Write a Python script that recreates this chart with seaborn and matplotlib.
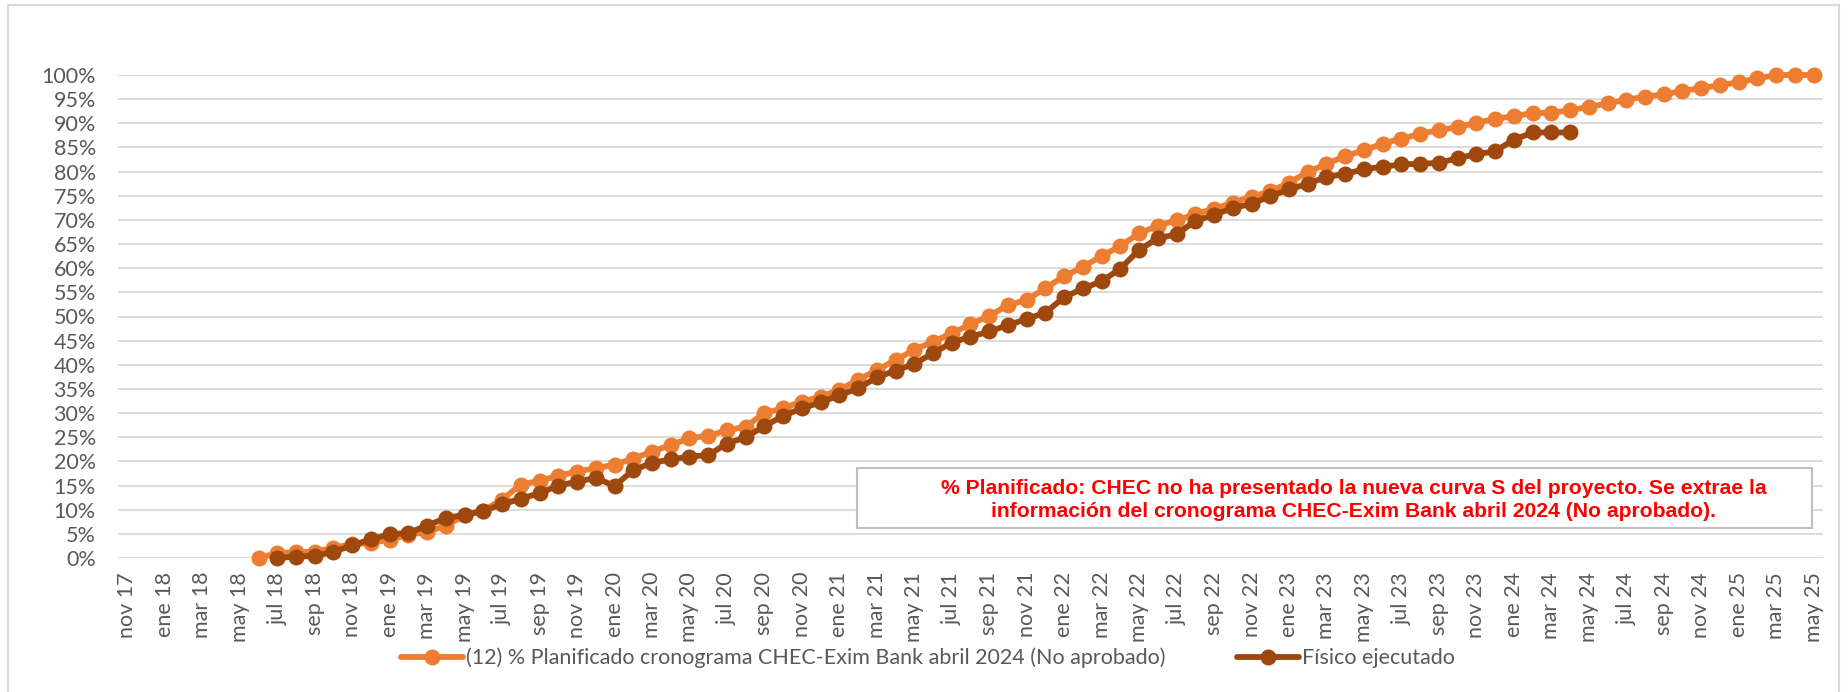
import matplotlib

matplotlib.use("Agg")
import matplotlib.pyplot as plt
import numpy as np
import pandas as pd
import seaborn as sns
from matplotlib.lines import Line2D
from matplotlib.patches import Rectangle
from matplotlib.ticker import PercentFormatter


# Eje de meses: nov 17 ... may 25 (un punto por mes)
MESES_ES = ["ene", "feb", "mar", "abr", "may", "jun", "jul", "ago", "sep", "oct", "nov", "dic"]
PERIODOS = pd.period_range("2017-11", "2025-05", freq="M")
MESES = [f"{MESES_ES[p.month - 1]} {p.year % 100:02d}" for p in PERIODOS]

# % planificado (cronograma CHEC-Exim Bank abril 2024), desde jun 18
INICIO_PLAN = "jun 18"
PLANIFICADO = [
    0.0, 1.0, 1.2, 1.3, 2.1, 2.9, 3.1, 3.8, 4.8, 5.4, 6.7, 8.8,
    9.8, 12.1, 15.2, 16.0, 17.0, 17.9, 18.6, 19.3, 20.6, 22.0, 23.4, 24.8,
    25.3, 26.4, 27.2, 30.0, 31.0, 32.4, 33.4, 34.8, 36.9, 38.9, 41.0, 43.1,
    44.8, 46.5, 48.4, 50.1, 52.4, 53.4, 55.9, 58.3, 60.3, 62.5, 64.6, 67.2,
    68.8, 69.9, 71.2, 72.3, 73.6, 74.8, 75.9, 77.7, 79.9, 81.6, 83.2, 84.4,
    85.8, 86.8, 87.8, 88.6, 89.2, 90.1, 90.9, 91.5, 92.1, 92.2, 92.7, 93.4,
    94.1, 94.9, 95.5, 96.0, 96.7, 97.3, 97.9, 98.5, 99.3, 100.0, 100.0, 100.0,
]

# % físico ejecutado, desde jul 18
INICIO_EJEC = "jul 18"
EJECUTADO = [
    0.0, 0.3, 0.4, 1.3, 2.6, 3.9, 4.9, 5.2, 6.7, 8.3, 8.9, 9.8,
    11.1, 12.3, 13.4, 15.0, 15.8, 16.6, 14.9, 18.2, 19.7, 20.4, 21.0, 21.3,
    23.7, 25.0, 27.3, 29.4, 31.0, 32.2, 33.7, 35.1, 37.4, 38.8, 40.2, 42.4,
    44.6, 45.8, 46.9, 48.2, 49.5, 50.8, 54.0, 55.8, 57.3, 59.9, 63.8, 66.2,
    67.0, 69.8, 71.0, 72.5, 73.3, 74.9, 76.3, 77.5, 78.9, 79.5, 80.5, 81.0,
    81.5, 81.6, 81.8, 82.8, 83.6, 84.2, 86.6, 88.1, 88.1, 88.1,
]

LABEL_PLAN = "(12) % Planificado cronograma CHEC-Exim Bank abril 2024 (No aprobado)"
LABEL_EJEC = "Físico ejecutado"
NOTA = (
    "% Planificado: CHEC no ha presentado la nueva curva S del proyecto. Se extrae la\n"
    "información del cronograma CHEC-Exim Bank abril 2024 (No aprobado)."
)

NARANJA = "#ED7D31"
MARRON = "#9E480E"
GRIS_TXT = "#595959"
GRIS_GRID = "#D9D9D9"
MS, LW = 11.5, 4.2


def serie(inicio: str, valores: list[float]) -> pd.DataFrame:
    i0 = MESES.index(inicio)
    return pd.DataFrame({"pos": np.arange(i0, i0 + len(valores)), "valor": np.array(valores) / 100})


def main() -> None:
    sns.set_theme(style="white")
    plt.rcParams["font.family"] = ["Lato", "DejaVu Sans"]

    W, H = 1849, 692
    fig = plt.figure(figsize=(W / 100, H / 100), dpi=100)
    ax = fig.add_axes([118 / W, 1 - 558 / H, (1823 - 118) / W, (558 - 75) / H])

    plan = serie(INICIO_PLAN, PLANIFICADO)
    ejec = serie(INICIO_EJEC, EJECUTADO)

    estilo = dict(marker="o", markersize=MS, markeredgewidth=0, linewidth=LW, clip_on=False, legend=False)
    sns.lineplot(data=plan, x="pos", y="valor", color=NARANJA, ax=ax, zorder=3, **estilo)
    sns.lineplot(data=ejec, x="pos", y="valor", color=MARRON, ax=ax, zorder=4, **estilo)

    ax.set_xlim(-0.5, len(MESES) - 0.5)
    ax.set_ylim(0, 1)
    ax.set_xticks(range(0, len(MESES), 2))
    ax.set_xticklabels(MESES[::2], rotation=90)
    ax.set_yticks(np.arange(0, 1.001, 0.05))
    ax.yaxis.set_major_formatter(PercentFormatter(1.0, decimals=0))
    ax.tick_params(axis="both", length=0, labelsize=15.5, labelcolor=GRIS_TXT)
    ax.tick_params(axis="y", pad=16)
    ax.tick_params(axis="x", pad=10)
    ax.set_xlabel("")
    ax.set_ylabel("")
    ax.grid(axis="y", color=GRIS_GRID, linewidth=1.3)
    ax.grid(axis="x", visible=False)
    for s in ax.spines.values():
        s.set_visible(False)

    handles = [
        Line2D([], [], color=NARANJA, marker="o", markersize=MS, markeredgewidth=0, linewidth=LW),
        Line2D([], [], color=MARRON, marker="o", markersize=MS, markeredgewidth=0, linewidth=LW),
    ]
    fig.legend(
        handles, [LABEL_PLAN, LABEL_EJEC], loc="center", bbox_to_anchor=(928 / W, 1 - 658 / H),
        ncol=2, frameon=False, fontsize=15.5, labelcolor=GRIS_TXT, handlelength=2.9,
        handletextpad=0.15, columnspacing=3.3, numpoints=1,
    )

    # cuadro de nota
    fig.patches.append(Rectangle((857 / W, 1 - 528 / H), 955 / W, 60 / H, transform=fig.transFigure,
                                 facecolor="white", edgecolor="#BFBFBF", linewidth=1.5, zorder=5))
    fig.text(1354 / W, 1 - 500 / H, NOTA, ha="center", va="center", multialignment="center",
             color="#FF0000", fontsize=15.2, fontweight="bold", family="Liberation Sans",
             linespacing=1.3, zorder=6)

    # borde del gráfico
    fig.patches.append(Rectangle((8 / W, -0.02), (1839 - 8) / W, 1 - 5 / H + 0.02, transform=fig.transFigure,
                                 facecolor="none", edgecolor=GRIS_GRID, linewidth=1.5, zorder=0))

    fig.savefig("out.png", dpi=100)
    plt.close(fig)


if __name__ == "__main__":
    main()
